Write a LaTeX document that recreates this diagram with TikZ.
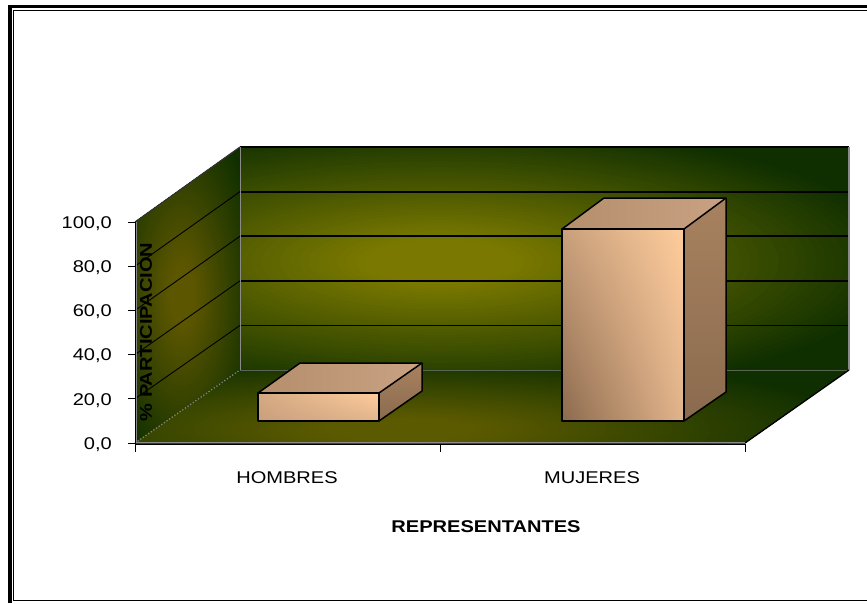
\documentclass[tikz,border=0pt]{standalone}
\usepackage{fontspec}
\setmainfont{Liberation Sans}
\usetikzlibrary{shadings}
\definecolor{dkg}{HTML}{0F2F00}
\definecolor{olivb}{HTML}{7A7800}
\definecolor{olivs}{HTML}{5C5600}
\definecolor{olivf}{HTML}{5C5A00}
\definecolor{pkA}{HTML}{FFCD9C}
\definecolor{pkB}{HTML}{C9A07C}
\definecolor{pkC}{HTML}{8C6A4E}
\definecolor{pkD}{HTML}{E2B48C}
\definecolor{topA}{HTML}{B58E6C}
\definecolor{topB}{HTML}{C8A282}
\definecolor{sideA}{HTML}{A8825F}
\definecolor{sideB}{HTML}{8A6A4E}
\definecolor{edgegray}{HTML}{8A8A8A}
\newcommand\hstretch[1]{\scalebox{1.18}[1]{#1}}
% glow: centre x, centre y, x radius, y radius, colour
\newcommand\glow[5]{%
  \foreach \i in {0,...,48} {%
    \pgfmathsetmacro\rr{1-\i/50}%
    \pgfmathsetmacro\pp{min(100,\i*2.4)}%
    \fill[#5!\pp!dkg] (#1,#2) ellipse [x radius=\rr*#3 pt, y radius=\rr*#4 pt];
  }}
\tikzset{
  lbl/.style={font=\fontsize{17}{20}\selectfont, inner sep=0pt},
  gridln/.style={black, line width=1.8pt},
  sidegrid/.style={black, line width=0.9pt},
  barline/.style={black, line width=1.5pt, line join=round},
  axisln/.style={black, line width=1pt}
}
\begin{document}
\begin{tikzpicture}[x=1pt,y=-1pt]
\useasboundingbox (0,0) rectangle (867,603);
\clip (0,0) rectangle (867,603);
\fill[white] (0,0) rectangle (867,603);
% frame
\draw[line width=3.5pt] (10,603) -- (10,6.5) -- (870,6.5);
\draw[line width=1.2pt] (13.5,10.5) rectangle (880,600.5);
% back wall
\begin{scope}
  \clip (240,147) rectangle (849,370);
  \fill[dkg] (240,147) rectangle (849,370);
  \glow{440}{262}{470}{140}{olivb}
\end{scope}
% side wall
\begin{scope}
  \clip (135,222) -- (240,147) -- (240,370) -- (135,443) -- cycle;
  \fill[dkg] (135,147) rectangle (240,443);
  \glow{182}{295}{80}{190}{olivs}
\end{scope}
% floor
\begin{scope}
  \clip (135,443) -- (240,370) -- (849,370) -- (745,443) -- cycle;
  \fill[dkg] (135,370) rectangle (849,443);
  \glow{400}{430}{470}{75}{olivf}
\end{scope}
% grid lines
\foreach \v in {20,40,60,80} {
  \draw[sidegrid] (135,{443-2.21*\v}) -- (240,{370-2.23*\v});
  \draw[gridln] (240,{370-2.23*\v}) -- (849,{370-2.23*\v});
}
\draw[black!80, line width=1.2pt] (135,222) -- (240,147);
\draw[black, line width=1.2pt] (240,147) -- (849,147);
% edges
\draw[edgegray, line width=1pt] (240,147) -- (240,370);
\draw[edgegray, line width=1.3pt] (849,147) -- (849,370);
\draw[edgegray!60!dkg, line width=0.8pt] (240,370) -- (849,370);
\draw[edgegray, line width=1.2pt, dotted] (135,443) -- (240,370);
\draw[edgegray, line width=1pt] (136,222) -- (136,443);
\draw[black, line width=1.3pt] (745,443) -- (849,370);
\draw[edgegray, line width=1pt] (135,442.5) -- (745,442.5);
% axes
\draw[axisln] (135,222) -- (135,452);
\foreach \v in {0,20,40,60,80,100} {
  \draw[axisln] (128,{443-2.21*\v}) -- (135,{443-2.21*\v});
}
\draw[axisln] (135,444) -- (745,444);
\draw[axisln] (440,444) -- (440,452);
\draw[axisln] (745,444) -- (745,452);
% bar HOMBRES
\shade[lower left=pkB, upper left=pkB!80!pkA, upper right=pkA, lower right=pkD] (258,393) rectangle (379,421);
\shade[left color=topA, right color=topB] (258,393) -- (300,363) -- (422,363) -- (379,393) -- cycle;
\shade[top color=sideA, bottom color=sideB] (379,393) -- (422,363) -- (422,391) -- (379,421) -- cycle;
\draw[barline] (258,393) rectangle (379,421);
\draw[barline] (258,393) -- (300,363) -- (422,363) -- (379,393);
\draw[barline] (422,363) -- (422,391) -- (379,421);
% bar MUJERES
\shade[lower left=pkC, upper left=pkB, upper right=pkA, lower right=pkD] (562,229) rectangle (684,421);
\shade[left color=topA, right color=topB] (562,229) -- (604,198) -- (726,198) -- (684,229) -- cycle;
\shade[top color=sideA, bottom color=sideB] (684,229) -- (726,198) -- (726,392) -- (684,421) -- cycle;
\draw[barline] (562,229) rectangle (684,421);
\draw[barline] (562,229) -- (604,198) -- (726,198) -- (684,229);
\draw[barline] (726,198) -- (726,392) -- (684,421);
% y labels
\node[lbl, anchor=east] (y100) at (112,224) {\hstretch{100,0}};
\node[lbl, anchor=east] (y80) at (112,268) {\hstretch{80,0}};
\node[lbl, anchor=east] (y60) at (112,312) {\hstretch{60,0}};
\node[lbl, anchor=east] (y40) at (112,356) {\hstretch{40,0}};
\node[lbl, anchor=east] (y20) at (112,401) {\hstretch{20,0}};
\node[lbl, anchor=east] (y0) at (112,445) {\hstretch{0,0}};
% axis title
\node[lbl, rotate=90, font=\fontsize{17}{20}\selectfont\bfseries] (ytitle) at (146,332) {\hstretch{\% PARTICIPACION}};
% category labels
\node[lbl] (hom) at (287,478) {\hstretch{HOMBRES}};
\node[lbl] (muj) at (592,478) {\hstretch{MUJERES}};
\node[lbl, font=\fontsize{17}{20}\selectfont\bfseries] (xtitle) at (486,527) {\hstretch{REPRESENTANTES}};
\end{tikzpicture}
\end{document}
